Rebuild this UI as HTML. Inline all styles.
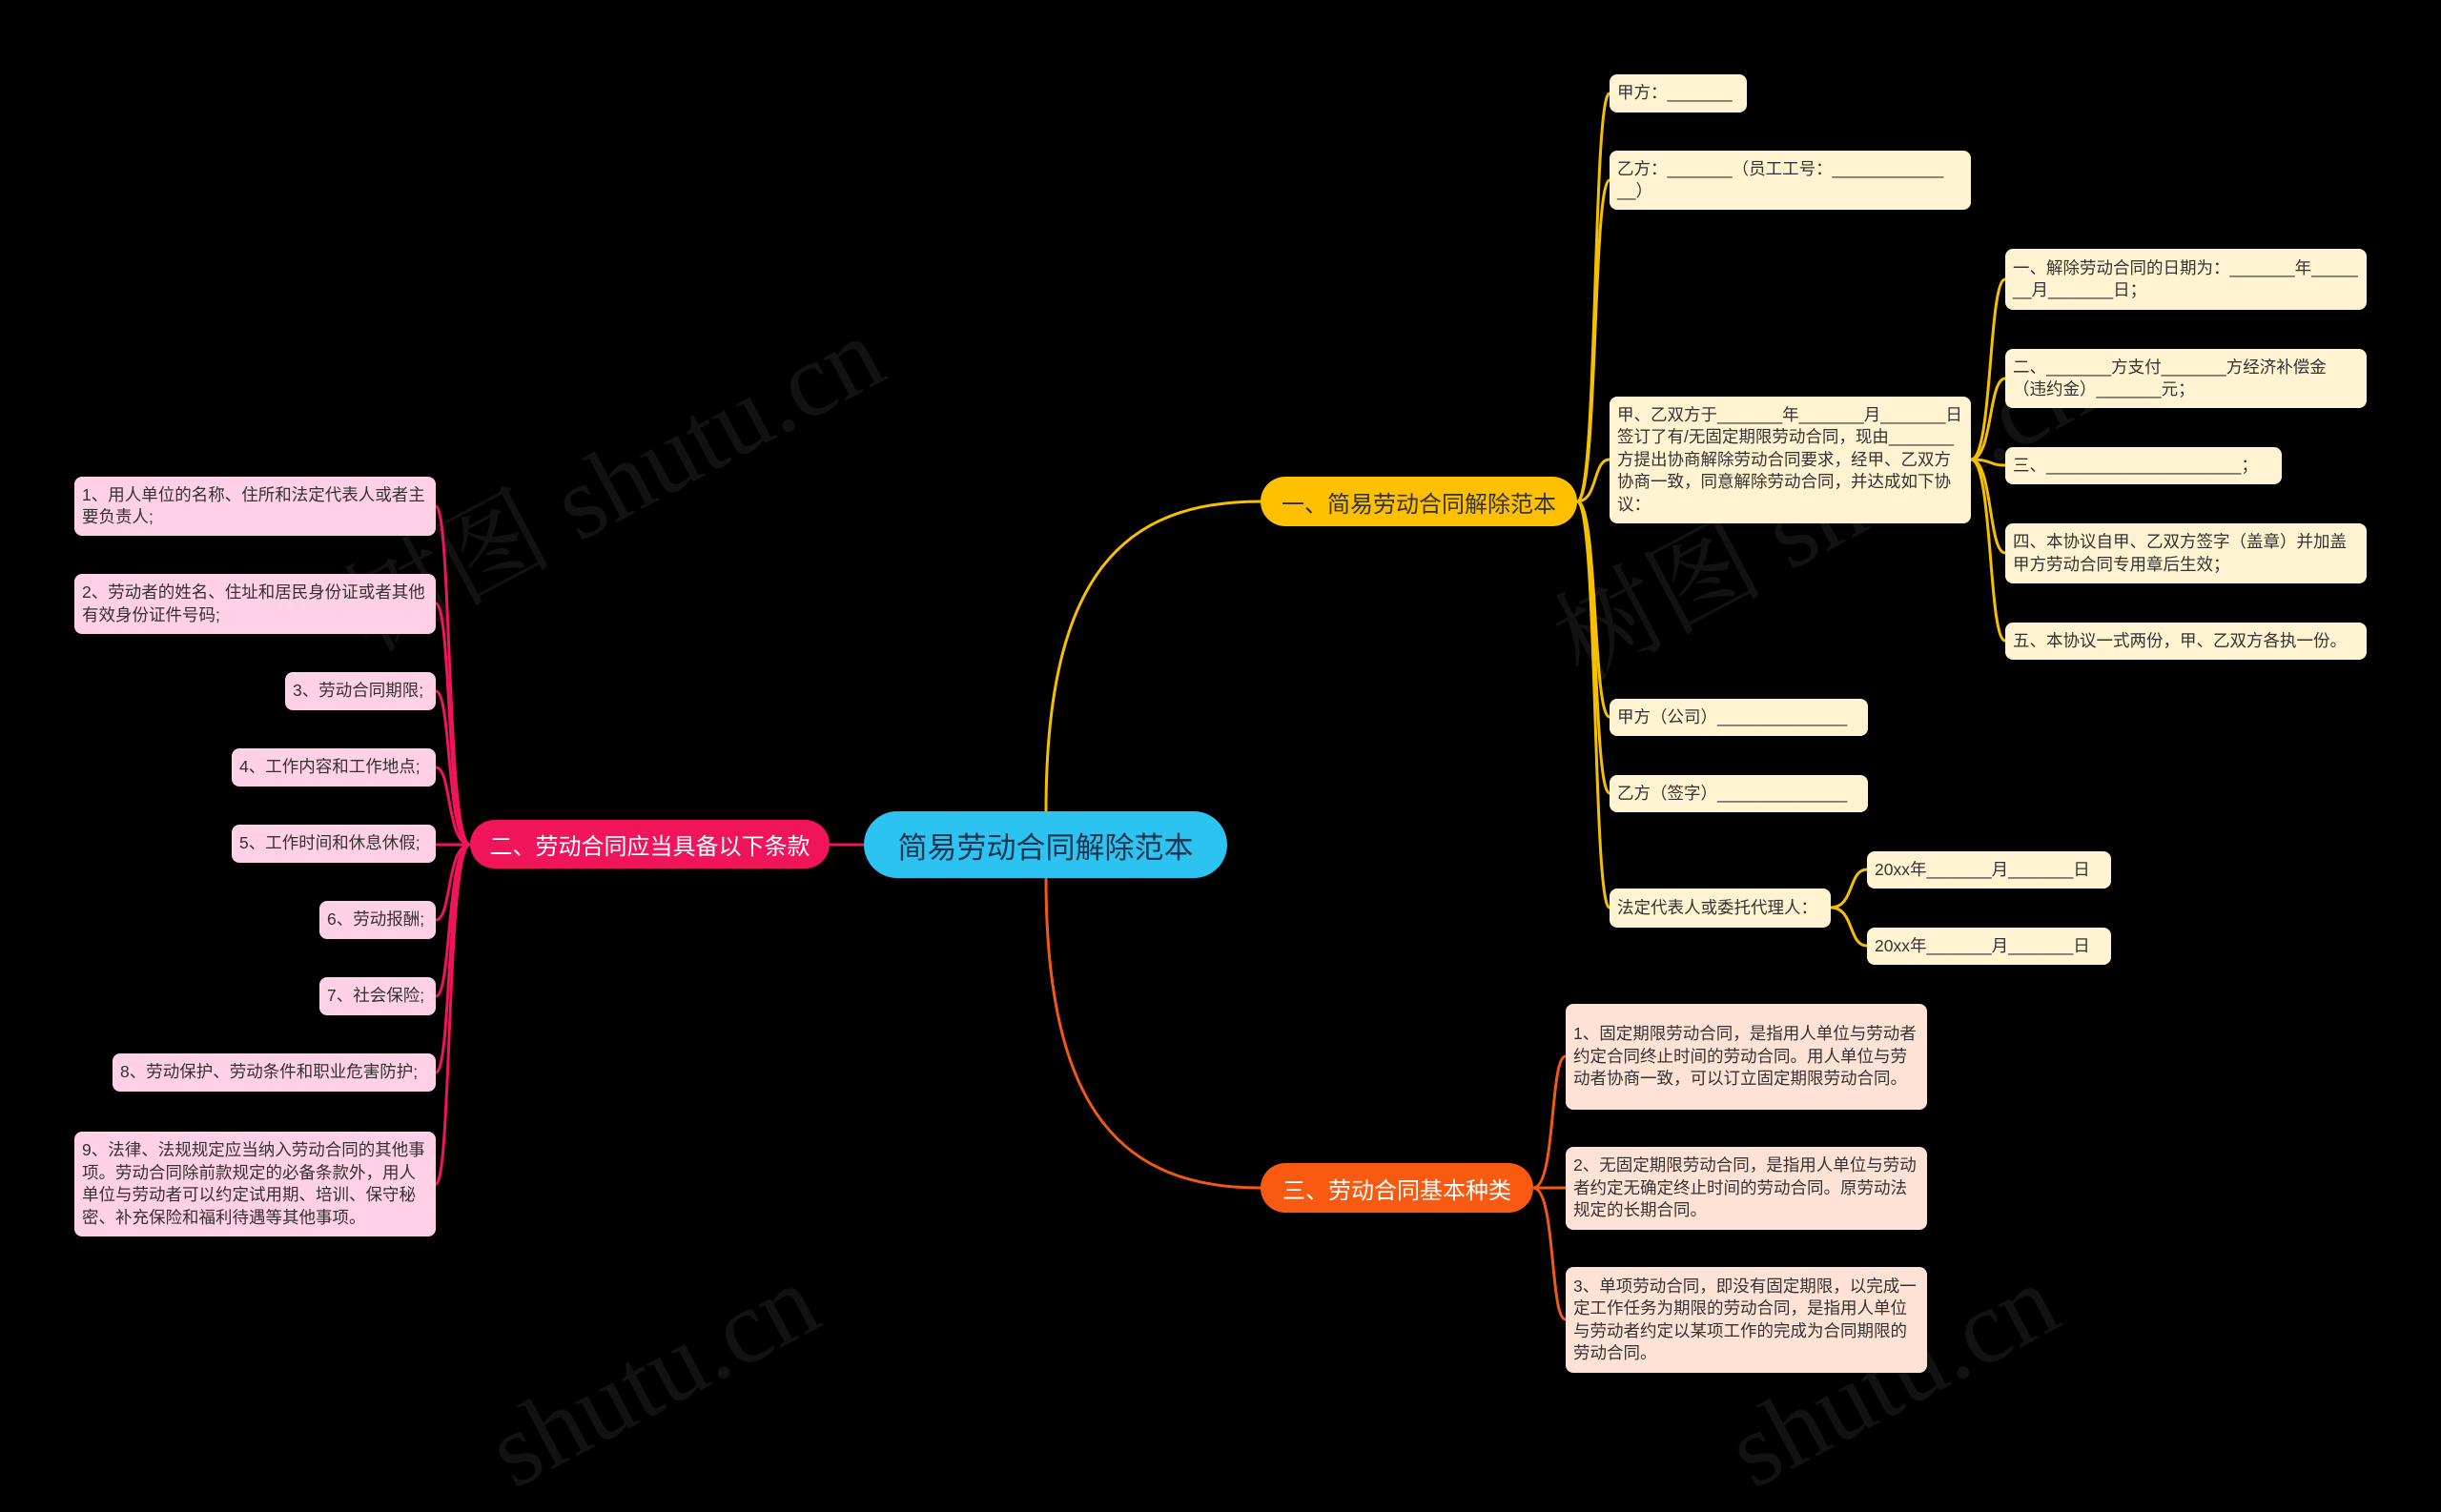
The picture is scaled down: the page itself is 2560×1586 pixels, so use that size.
<!DOCTYPE html>
<html><head><meta charset="utf-8"><style>
body{margin:0;width:2560px;height:1518px;background:#000;position:relative;overflow:hidden;font-family:"Liberation Sans","Noto Sans CJK SC",sans-serif}
.n{position:absolute;box-sizing:border-box;border-radius:8px;font-size:17.5px;line-height:23.5px;color:#333;padding:6px 8px;display:flex;align-items:center;white-space:pre-wrap;word-break:break-all}
.s{white-space:nowrap;overflow:visible}
.y{background:#fff3d1}.p{background:#ffd0e6}.o{background:#ffe2d6}
.b{position:absolute;box-sizing:border-box;border-radius:26px;display:flex;align-items:center;justify-content:center;font-size:24px;white-space:nowrap}
.wm{position:absolute;color:#121212;font-size:110px;font-family:"Liberation Serif","Noto Serif CJK SC",serif;transform:rotate(-28deg);white-space:nowrap}
</style></head><body>
<div class="wm" style="left:330px;top:420px">树图 shutu.cn</div>
<div class="wm" style="left:1600px;top:450px">树图 shutu.cn</div>
<div class="wm" style="left:500px;top:1380px">shutu.cn</div>
<div class="wm" style="left:1800px;top:1380px">shutu.cn</div>
<svg width="2560" height="1518" style="position:absolute;left:0;top:0" fill="none" stroke-width="3">
<g stroke="#f5c000">
<path d="M1097 851 C1097 600 1180 526 1322 526"/>
<path d="M1654 526 C1676 526 1670 98 1688 98"/>
<path d="M1654 526 C1676 526 1670 189 1688 189"/>
<path d="M1654 526 C1676 526 1670 482 1688 482"/>
<path d="M1654 526 C1676 526 1670 752 1688 752"/>
<path d="M1654 526 C1676 526 1670 832 1688 832"/>
<path d="M1654 526 C1676 526 1670 952 1688 952"/>
<path d="M2067 482 C2090 482 2085 293 2103 293"/>
<path d="M2067 482 C2090 482 2085 397 2103 397"/>
<path d="M2067 482 C2090 482 2085 488 2103 488"/>
<path d="M2067 482 C2090 482 2085 580 2103 580"/>
<path d="M2067 482 C2090 482 2085 672 2103 672"/>
<path d="M1920 952 C1945 952 1938 912 1958 912"/>
<path d="M1920 952 C1945 952 1938 992 1958 992"/>
</g>
<g stroke="#f0145a">
<path d="M906 886 L870 886"/>
<path d="M493 886 C468 886 474 531 457 531"/>
<path d="M493 886 C468 886 474 633 457 633"/>
<path d="M493 886 C468 886 474 725 457 725"/>
<path d="M493 886 C468 886 474 805 457 805"/>
<path d="M493 886 L457 886"/>
<path d="M493 886 C468 886 474 965 457 965"/>
<path d="M493 886 C468 886 474 1045 457 1045"/>
<path d="M493 886 C468 886 474 1125 457 1125"/>
<path d="M493 886 C468 886 474 1242 457 1242"/>
</g>
<g stroke="#f25a14">
<path d="M1097 921 C1097 1170 1180 1246 1322 1246"/>
<path d="M1608 1246 C1632 1246 1625 1108 1642 1108"/>
<path d="M1608 1246 L1642 1246"/>
<path d="M1608 1246 C1632 1246 1625 1384 1642 1384"/>
</g>
</svg>
<div class="b" style="left:906px;top:851px;width:381px;height:70px;background:#2cc3f0;border-radius:35px;color:#1b3552;font-size:31px">简易劳动合同解除范本</div>
<div class="b" style="left:1322px;top:500px;width:332px;height:52px;background:#ffc000;color:#333">一、简易劳动合同解除范本</div>
<div class="b" style="left:493px;top:860px;width:377px;height:51px;background:#f0145a;color:#fff">二、劳动合同应当具备以下条款</div>
<div class="b" style="left:1322px;top:1220px;width:286px;height:52px;background:#f85a12;color:#fff">三、劳动合同基本种类</div>

<div class="n y s" style="left:1688px;top:78px;width:144px;height:40px">甲方：_______</div>
<div class="n y" style="left:1688px;top:158px;width:379px;height:62px">乙方：_______（员工工号：____________
__）</div>
<div class="n y" style="left:1688px;top:416px;width:379px;height:133px">甲、乙双方于_______年_______月_______日签订了有/无固定期限劳动合同，现由_______方提出协商解除劳动合同要求，经甲、乙双方协商一致，同意解除劳动合同，并达成如下协议：</div>
<div class="n y" style="left:2103px;top:261px;width:379px;height:64px">一、解除劳动合同的日期为：_______年_______月_______日；</div>
<div class="n y" style="left:2103px;top:366px;width:379px;height:62px">二、_______方支付_______方经济补偿金（违约金）_______元；</div>
<div class="n y s" style="left:2103px;top:469px;width:290px;height:39px">三、_____________________；</div>
<div class="n y" style="left:2103px;top:549px;width:379px;height:63px">四、本协议自甲、乙双方签字（盖章）并加盖甲方劳动合同专用章后生效；</div>
<div class="n y s" style="left:2103px;top:653px;width:379px;height:39px">五、本协议一式两份，甲、乙双方各执一份。</div>
<div class="n y s" style="left:1688px;top:733px;width:271px;height:39px">甲方（公司）______________</div>
<div class="n y s" style="left:1688px;top:813px;width:271px;height:39px">乙方（签字）______________</div>
<div class="n y s" style="left:1688px;top:932px;width:232px;height:41px">法定代表人或委托代理人：</div>
<div class="n y s" style="left:1958px;top:893px;width:256px;height:39px">20xx年_______月_______日</div>
<div class="n y s" style="left:1958px;top:973px;width:256px;height:39px">20xx年_______月_______日</div>

<div class="n p" style="left:78px;top:500px;width:379px;height:62px">1、用人单位的名称、住所和法定代表人或者主要负责人;</div>
<div class="n p" style="left:78px;top:602px;width:379px;height:63px">2、劳动者的姓名、住址和居民身份证或者其他有效身份证件号码;</div>
<div class="n p s" style="left:299px;top:705px;width:158px;height:40px">3、劳动合同期限;</div>
<div class="n p s" style="left:243px;top:785px;width:214px;height:40px">4、工作内容和工作地点;</div>
<div class="n p s" style="left:243px;top:865px;width:214px;height:40px">5、工作时间和休息休假;</div>
<div class="n p s" style="left:335px;top:945px;width:122px;height:40px">6、劳动报酬;</div>
<div class="n p s" style="left:335px;top:1025px;width:122px;height:40px">7、社会保险;</div>
<div class="n p s" style="left:118px;top:1105px;width:339px;height:40px">8、劳动保护、劳动条件和职业危害防护;</div>
<div class="n p" style="left:78px;top:1187px;width:379px;height:110px">9、法律、法规规定应当纳入劳动合同的其他事项。劳动合同除前款规定的必备条款外，用人单位与劳动者可以约定试用期、培训、保守秘密、补充保险和福利待遇等其他事项。</div>

<div class="n o" style="left:1642px;top:1053px;width:379px;height:111px">1、固定期限劳动合同，是指用人单位与劳动者约定合同终止时间的劳动合同。用人单位与劳动者协商一致，可以订立固定期限劳动合同。</div>
<div class="n o" style="left:1642px;top:1203px;width:379px;height:87px">2、无固定期限劳动合同，是指用人单位与劳动者约定无确定终止时间的劳动合同。原劳动法规定的长期合同。</div>
<div class="n o" style="left:1642px;top:1329px;width:379px;height:111px">3、单项劳动合同，即没有固定期限，以完成一定工作任务为期限的劳动合同，是指用人单位与劳动者约定以某项工作的完成为合同期限的劳动合同。</div>
</body></html>
